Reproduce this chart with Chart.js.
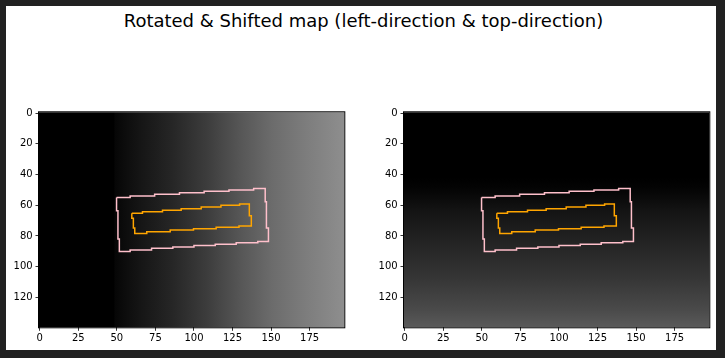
<!DOCTYPE html>
<html><head><meta charset="utf-8">
<script src="https://cdn.jsdelivr.net/npm/chart.js@4"></script>
<style>
html,body{margin:0;padding:0;background:#212121;width:725px;height:358px;overflow:hidden;}
#fig{position:absolute;left:6px;top:6px;width:710px;height:344px;background:#fff;}
#title{position:absolute;left:0;top:11.5px;width:727px;text-align:center;font-family:'DejaVu Sans';font-size:18px;line-height:18px;color:#000;white-space:nowrap;}
canvas{position:absolute;}
</style></head><body>
<div id="fig"></div>
<div id="title">Rotated &amp; Shifted map (left-direction &amp; top-direction)</div>
<canvas id="c1" width="362" height="258" style="left:0px;top:100px"></canvas>
<canvas id="c2" width="362" height="258" style="left:365px;top:100px"></canvas>
<script>
const xTicks=[0,25,50,75,100,125,150,175];
const yTicks=[0,20,40,60,80,100,120];
const xExtent=[-0.5,197.5];
const yExtent=[-0.5,139.5];

// outer (pink) contour vertices
const pinkX=[49.8,58.6,58.6,74.5,74.5,90.6,90.6,106.6,106.6,122.7,122.7,138.7,138.7,146.2,146.2,147.0,147.0,148.3,148.3,141.4,141.4,127.4,127.4,113.8,113.8,100.0,100.0,86.3,86.3,72.5,72.5,58.6,58.6,51.6,51.6,50.7,50.7,49.8,49.8];
const pinkY=[54.9,54.9,54.0,54.0,52.9,52.9,51.9,51.9,50.9,50.9,50.1,50.1,49.1,49.1,57.8,57.8,74.9,74.9,83.7,83.7,84.5,84.5,85.4,85.4,86.3,86.3,87.2,87.2,88.1,88.1,89.1,89.1,90.2,90.2,82.0,82.0,63.6,63.6,54.9];
// inner (orange) contour vertices
const orangeX=[59.7,66.6,66.6,79.6,79.6,91.7,91.7,104.7,104.7,117.5,117.5,129.6,129.6,135.9,135.9,137.2,137.2,129.2,129.2,114.4,114.4,99.7,99.7,84.6,84.6,69.4,69.4,61.6,61.6,60.7,60.7,59.7,59.7];
const orangeY=[65.3,65.3,64.2,64.2,63.3,63.3,62.3,62.3,61.2,61.2,60.1,60.1,59.2,59.2,66.8,66.8,73.5,73.5,74.4,74.4,75.3,75.3,76.1,76.1,77.2,77.2,78.5,78.5,74.8,74.8,68.5,68.5,65.3];

// map intensities (gray level 0-255) along the gradient direction
const leftGradPos=[-0.5,48,48.8,55,65,86,108,129,151,173,197.5];
const leftGradGray=[0,0,6,12,21,38,60,85,108,125,142];
const rightGradPos=[-0.5,42,48,54,63,85,106,128,139.5];
const rightGradGray=[0,0,3,9,19,36,52,74,90];

function pts(xs,ys){return xs.map((x,i)=>({x:x,y:ys[i]}));}

function gradPlugin(axis,pos,gray){
  return {id:'grad',beforeDatasetsDraw(chart){
    const {ctx,chartArea:a,scales}=chart;
    const s=scales[axis];
    const ext=axis==='x'?xExtent:yExtent;
    const p0=s.getPixelForValue(ext[0]), p1=s.getPixelForValue(ext[1]);
    const g=axis==='x'?ctx.createLinearGradient(p0,0,p1,0):ctx.createLinearGradient(0,p0,0,p1);
    pos.forEach((v,i)=>{
      const off=(s.getPixelForValue(v)-p0)/(p1-p0);
      const c=gray[i];
      g.addColorStop(Math.min(1,Math.max(0,off)),'rgb('+c+','+c+','+c+')');
    });
    ctx.save();
    ctx.fillStyle=g;
    ctx.fillRect(a.left,a.top,a.right-a.left,a.bottom-a.top);
    ctx.restore();
  }};
}
const framePlugin={id:'frame',afterDraw(chart){
  const {ctx,chartArea:a}=chart;
  ctx.save();ctx.strokeStyle='#000';ctx.lineWidth=1;
  ctx.strokeRect(a.left-0.5,a.top-0.5,a.right-a.left+1,a.bottom-a.top+1);
  ctx.restore();
}};

function makeChart(id,plugin){
  const tickFont={family:'DejaVu Sans',size:10};
  return new Chart(document.getElementById(id),{
    type:'scatter',
    data:{datasets:[
      {data:pts(pinkX,pinkY),showLine:true,borderColor:'#ffc0cb',borderWidth:1.5,pointRadius:0,fill:false,tension:0},
      {data:pts(orangeX,orangeY),showLine:true,borderColor:'#ffa500',borderWidth:1.5,pointRadius:0,fill:false,tension:0}
    ]},
    options:{
      responsive:false,animation:false,devicePixelRatio:1,events:[],
      layout:{padding:{top:12.3,right:17.7,bottom:0,left:0}},
      plugins:{legend:{display:false},tooltip:{enabled:false}},
      scales:{
        x:{type:'linear',min:xExtent[0],max:xExtent[1],
          afterBuildTicks(s){s.ticks=xTicks.map(v=>({value:v}));},
          afterFit(s){s.height=30.7;},
          grid:{display:true,drawOnChartArea:false,drawTicks:true,tickLength:3.5,color:'#000',lineWidth:0.8},
          border:{display:false},
          ticks:{font:tickFont,color:'#000',padding:2,maxRotation:0,autoSkip:false,callback:v=>String(v)}},
        y:{type:'linear',reverse:true,min:yExtent[0],max:yExtent[1],
          afterBuildTicks(s){s.ticks=yTicks.map(v=>({value:v}));},
          afterFit(s){s.width=39;},
          grid:{display:true,drawOnChartArea:false,drawTicks:true,tickLength:3.5,color:'#000',lineWidth:0.8},
          border:{display:false},
          ticks:{font:tickFont,color:'#000',padding:2.8,autoSkip:false,callback:v=>String(v)}}
      }
    },
    plugins:[plugin,framePlugin]
  });
}
makeChart('c1',gradPlugin('x',leftGradPos,leftGradGray));
makeChart('c2',gradPlugin('y',rightGradPos,rightGradGray));
</script>
</body></html>
